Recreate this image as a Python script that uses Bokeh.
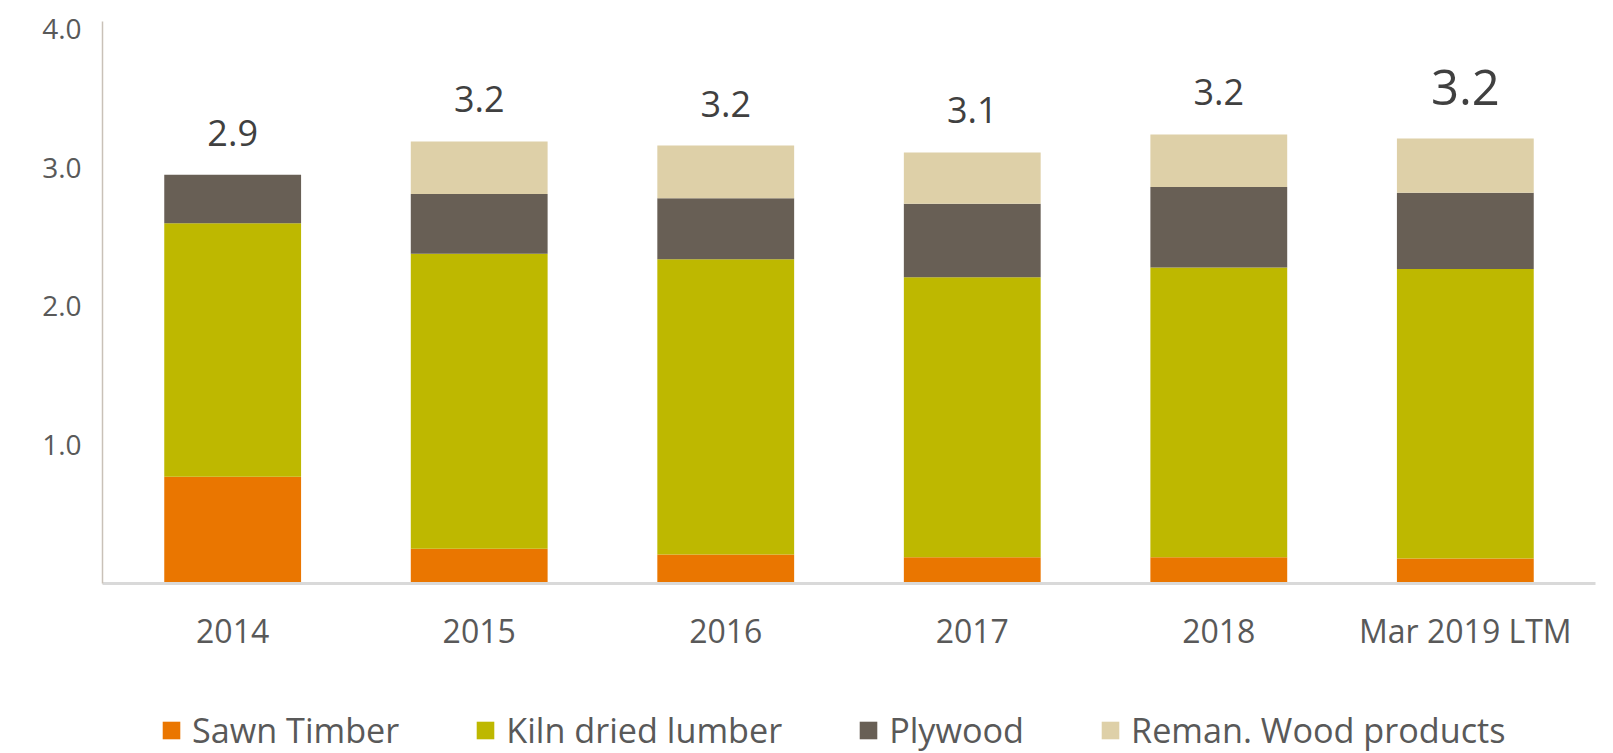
from bokeh.plotting import figure
from bokeh.models import (ColumnDataSource, FactorRange, Range1d, FixedTicker, Legend, LegendItem,
                          CustomJSTickFormatter)
from bokeh.layouts import column
from bokeh.core.properties import value
from bokeh.embed import file_html
from bokeh.resources import INLINE

categories = ["2014", "2015", "2016", "2017", "2018", "Mar 2019 LTM"]
sawn_timber = [0.77, 0.25, 0.21, 0.19, 0.19, 0.18]
kiln_dried = [1.83, 2.13, 2.13, 2.02, 2.09, 2.09]
plywood = [0.35, 0.43, 0.44, 0.53, 0.58, 0.55]
reman = [0.0, 0.38, 0.38, 0.37, 0.38, 0.39]
total_labels = ["2.9", "3.2", "3.2", "3.1", "3.2", "3.2"]
series_names = ["Sawn Timber", "Kiln dried lumber", "Plywood", "Reman. Wood products"]
y_ticks = [1, 2, 3, 4]

colors = ["#EA7600", "#BEB800", "#685F55", "#DED0A8"]
FONT = "Open Sans"
W = 1605

keys = ["sawn", "kiln", "ply", "reman"]
source = ColumnDataSource(dict(cat=categories, sawn=sawn_timber, kiln=kiln_dried,
                               ply=plywood, reman=reman))

p = figure(x_range=FactorRange(*categories, range_padding=0.028, range_padding_units="absolute"),
           y_range=Range1d(0, 4.055),
           width=W, height=680, output_backend="svg", toolbar_location=None,
           min_border_left=102, min_border_right=10, min_border_top=21, min_border_bottom=97)

p.vbar_stack(keys, x="cat", width=0.555, source=source, color=colors, line_width=0)

# total labels
tops = [a + b + c + d for a, b, c, d in zip(sawn_timber, kiln_dried, plywood, reman)]
label_sizes = ["36px"] * 5 + ["49px"]
label_offsets = [-42] * 5 + [-51]
lab_src = ColumnDataSource(dict(cat=categories, top=tops, txt=total_labels,
                                size=label_sizes, off=label_offsets))
p.text(x="cat", y="top", text="txt", source=lab_src, text_font=value(FONT),
       text_font_size="size", y_offset="off", text_align="center",
       text_baseline="alphabetic", text_color="#404040")

# axes
p.xgrid.visible = False
p.ygrid.visible = False
p.outline_line_color = None

p.yaxis.ticker = FixedTicker(ticks=y_ticks)
p.yaxis.formatter = CustomJSTickFormatter(code="return tick.toFixed(1);")
p.yaxis.major_tick_line_color = None
p.yaxis.minor_tick_line_color = None
p.yaxis.axis_line_color = "#C9C1B8"
p.yaxis.axis_line_width = 1.5
p.yaxis.major_label_text_font = FONT
p.yaxis.major_label_text_font_size = "28px"
p.yaxis.major_label_text_color = "#595959"
p.yaxis.major_label_standoff = 15

p.xaxis.major_tick_line_color = None
p.xaxis.minor_tick_line_color = None
p.xaxis.axis_line_color = "#D9D9D9"
p.xaxis.axis_line_width = 3
p.xaxis.major_label_text_font = FONT
p.xaxis.major_label_text_font_size = "32px"
p.xaxis.major_label_text_color = "#595959"
p.xaxis.major_label_standoff = 19

# legend strip (swatch renderers sit outside the strip's visible range)
lg = figure(width=W, height=73, output_backend="svg", toolbar_location=None,
            x_range=Range1d(0, 1), y_range=Range1d(0, 1),
            x_axis_type=None, y_axis_type=None,
            min_border_left=0, min_border_right=0, min_border_top=0, min_border_bottom=0)
lg.xgrid.visible = False
lg.ygrid.visible = False
lg.outline_line_color = None
swatch = ColumnDataSource(dict(x=[-5], top=[-5]))
dummies = [lg.vbar(x="x", top="top", bottom=-6, width=0.1, source=swatch, color=c, line_width=0)
           for c in colors]

legend = Legend(items=[LegendItem(label=n, renderers=[r]) for n, r in zip(series_names, dummies)],
                orientation="horizontal", location=(58, 0),
                glyph_width=22, glyph_height=22, label_standoff=10, spacing=75,
                padding=0, margin=0, border_line_color=None, background_fill_alpha=0,
                label_text_font=FONT, label_text_font_size="34.2px", label_text_color="#595959")
lg.add_layout(legend, "center")

layout = column(p, lg, spacing=0)
open("out.html", "w").write(file_html(layout, INLINE))
